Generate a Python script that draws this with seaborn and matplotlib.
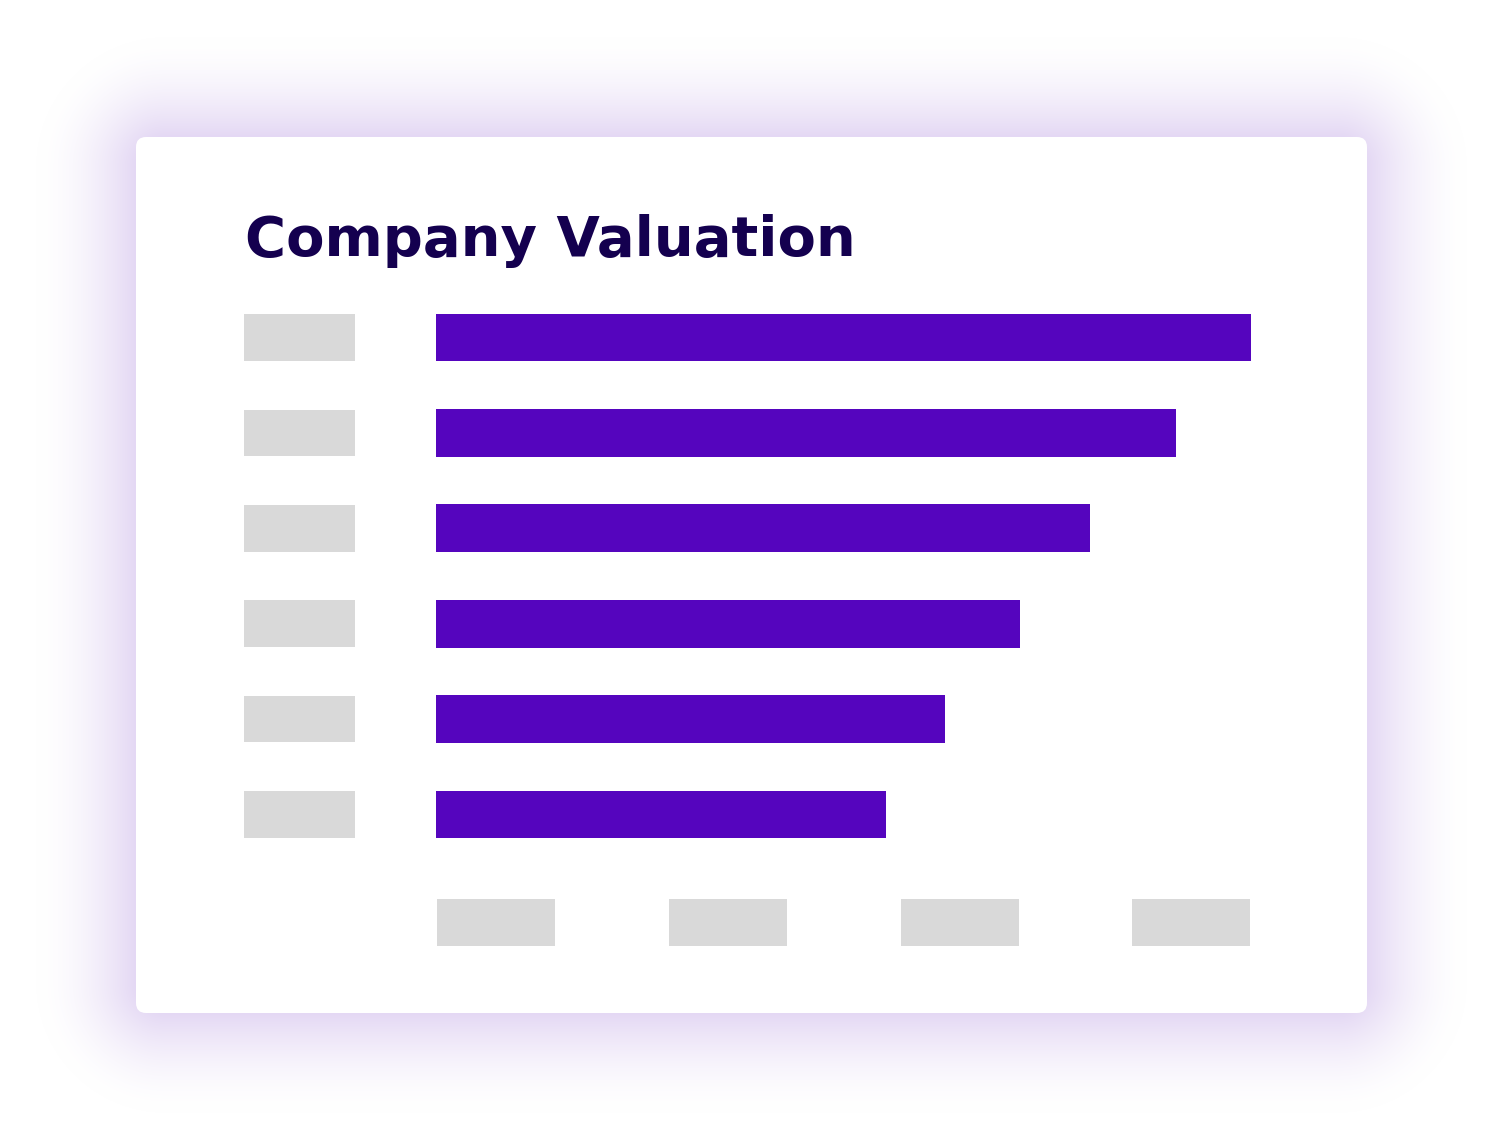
import numpy as np
import pandas as pd
import matplotlib
matplotlib.use("Agg")
import matplotlib.pyplot as plt
from matplotlib.patches import FancyBboxPatch, Rectangle
import seaborn as sns

# ---- data ----
categories = ["A", "B", "C", "D", "E", "F"]
valuations = [100, 90.8, 80.2, 71.7, 62.5, 55.2]
xtick_centers = [7.4, 35.8, 64.3, 92.6]   # placeholder tick label positions
title = "Company Valuation"

BAR = "#5505BE"
GREY = "#D9D9D9"
TITLE_C = "#14004F"
SHADOW = np.array([228, 216, 244]) / 255.0

sns.set_theme(style="white")
plt.rcParams["font.family"] = ["DejaVu Sans"]

W, H = 1501, 1147
fig = plt.figure(figsize=(W / 100, H / 100), dpi=100)
fig.patch.set_facecolor("white")

# ---- background with soft shadow ----
bg = fig.add_axes([0, 0, 1, 1])
bg.set_xlim(0, W)
bg.set_ylim(H, 0)
bg.axis("off")

cx0, cx1, cy0, cy1, r = 136, 1367, 137, 1013, 10
yy, xx = np.mgrid[0:H, 0:W] + 0.5
rr = 30
dx = np.maximum(np.maximum(cx0 + rr - xx, xx - (cx1 - rr)), 0)
dy = np.maximum(np.maximum(cy0 + rr - yy, yy - (cy1 - rr)), 0)
d = np.sqrt(dx ** 2 + dy ** 2) - rr
d = np.clip(d, 0, None)
a = np.clip(1 - d / 100.0, 0, 1) ** 1.7
img = np.ones((H, W, 3)) * (1 - a[..., None]) + SHADOW[None, None, :] * a[..., None]
bg.imshow(img, extent=(0, W, H, 0), interpolation="bilinear", zorder=0)

card = FancyBboxPatch((cx0 + r, cy0 + r), (cx1 - cx0) - 2 * r, (cy1 - cy0) - 2 * r,
                      boxstyle=f"round,pad={r}", fc="white", ec="none", zorder=1)
bg.add_patch(card)

t = bg.text(245, 256, title, color=TITLE_C, fontsize=44, fontweight="bold",
            ha="left", va="baseline", zorder=2)
fig.canvas.draw()
ext = t.get_window_extent(fig.canvas.get_renderer())
t.set_fontsize(44 * 610.0 / ext.width)

# ---- bar chart ----
left_px, right_px = 436, 1251
top_px, bot_px = 289.8, 862.2
ax = fig.add_axes([left_px / W, (H - bot_px) / H, (right_px - left_px) / W, (bot_px - top_px) / H])
ax.patch.set_alpha(0)
df = pd.DataFrame({"company": categories, "valuation": valuations})
sns.barplot(data=df, x="valuation", y="company", orient="h", color=BAR,
            saturation=1, width=0.5, linewidth=0, ax=ax)
ax.set_xlim(0, 100)
ax.set_ylim(len(categories) - 0.5, -0.5)
for s in ax.spines.values():
    s.set_visible(False)
ax.set_xticks([])
ax.set_yticks([])
ax.set_xlabel("")
ax.set_ylabel("")

# placeholder y tick labels
ytr = ax.get_yaxis_transform()
for i in range(len(categories)):
    ax.add_patch(Rectangle((-0.2356, i - 0.245), 0.1362, 0.49, transform=ytr,
                           fc=GREY, ec="none", clip_on=False))
# placeholder x tick labels
xtr = ax.get_xaxis_transform()
for c in xtick_centers:
    ax.add_patch(Rectangle((c - 7.25, -0.1464), 14.5, 0.0821, transform=xtr,
                           fc=GREY, ec="none", clip_on=False))

fig.savefig("out.png", dpi=100, facecolor="white")
